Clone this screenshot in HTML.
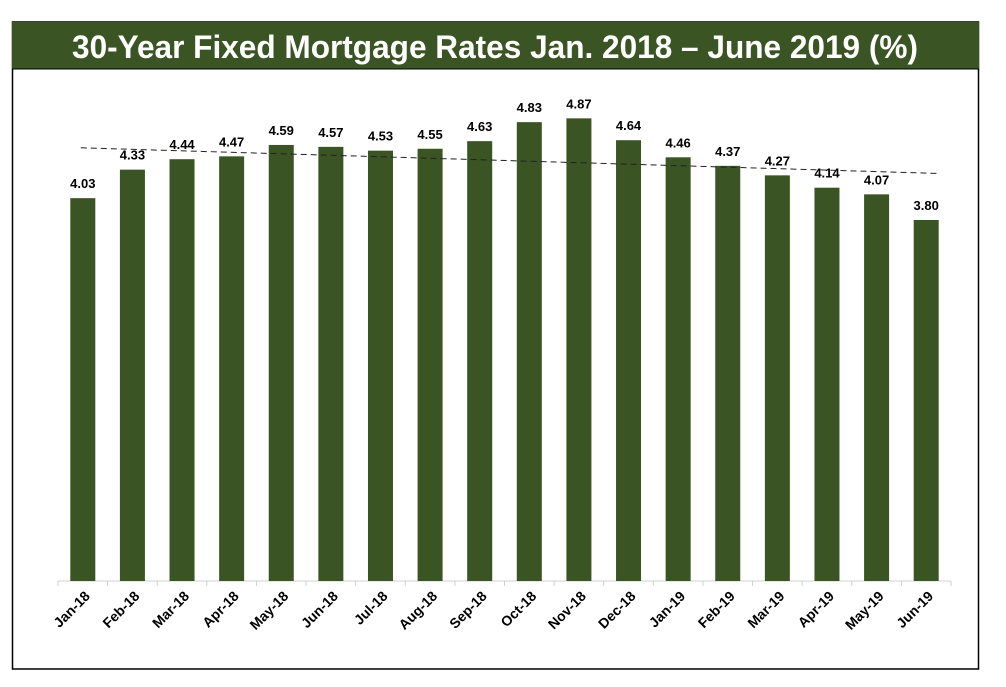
<!DOCTYPE html>
<html><head><meta charset="utf-8"><style>
body{margin:0;background:#fff;}
svg text{font-family:"Liberation Sans",sans-serif;}
</style></head><body>
<svg width="1006" height="682">
<rect x="12.5" y="22" width="966" height="647" fill="#fff" stroke="#000" stroke-width="1.5"/>
<rect x="12" y="22" width="967" height="47" fill="#3a5423"/>
<line x1="12" y1="69" x2="979" y2="69" stroke="#000" stroke-width="1"/>
<text x="495" y="58" text-anchor="middle" fill="#fff" font-size="32" font-weight="bold" textLength="846" lengthAdjust="spacingAndGlyphs">30-Year Fixed Mortgage Rates Jan. 2018 – June 2019 (%)</text>
<g id="plot"></g>
</svg>
<script>
const categories=["Jan-18","Feb-18","Mar-18","Apr-18","May-18","Jun-18","Jul-18","Aug-18","Sep-18","Oct-18","Nov-18","Dec-18","Jan-19","Feb-19","Mar-19","Apr-19","May-19","Jun-19"];
const rates=[4.03,4.33,4.44,4.47,4.59,4.57,4.53,4.55,4.63,4.83,4.87,4.64,4.46,4.37,4.27,4.14,4.07,3.80];
const trendStart=4.56, trendEnd=4.29;
const x0=58,x1=951,base=581,ppu=95;
const step=(x1-x0)/categories.length;
const xc=i=>x0+step*(i+0.5);
const y=v=>base-v*ppu;
const g=document.getElementById('plot');
const NS='http://www.w3.org/2000/svg';
function mk(t,a){const e=document.createElementNS(NS,t);for(const k in a)e.setAttribute(k,a[k]);g.appendChild(e);return e;}
const ax=mk('line',{x1:x0,y1:base,x2:x1,y2:base,stroke:'#d0d0d0','stroke-width':1});


for(let i=0;i<=categories.length;i++){
 const t=mk('line',{x1:x0+step*i,y1:base,x2:x0+step*i,y2:base+5,stroke:'#d0d0d0'});
 
 
}
rates.forEach((v,i)=>{
 const b=mk('rect',{x:xc(i)-12.5,y:y(v),width:25,height:v*ppu,fill:'#3a5423'});
 
 
 const l=mk('text',{x:xc(i),y:y(v)-10,'text-anchor':'middle','font-size':13,'font-weight':'bold',fill:'#000'});
 l.textContent=v.toFixed(2);
 
 
 const c=mk('text',{x:xc(i)+8,y:base+16,'text-anchor':'end','font-size':14,'font-weight':'bold',fill:'#000',transform:`rotate(-45 ${xc(i)+8} ${base+16})`});
 c.textContent=categories[i];
 
 
});
const tr=mk('line',{x1:xc(0)-2,y1:y(trendStart),x2:xc(categories.length-1)+12,y2:y(trendEnd),stroke:'#222','stroke-width':1,'stroke-dasharray':'6,4'});


</script>
</body></html>
